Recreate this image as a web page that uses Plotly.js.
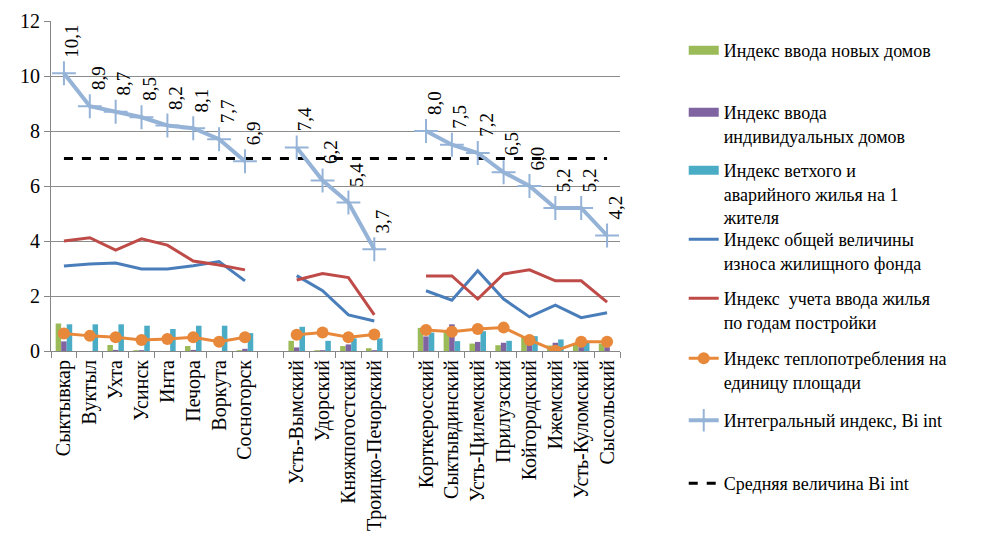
<!DOCTYPE html>
<html>
<head>
<meta charset="utf-8">
<script src="https://cdn.plot.ly/plotly-3.0.1.min.js"></script>
<style>html,body{margin:0;padding:0;background:#fff;}#chart{width:984px;height:536px;}</style>
</head>
<body>
<div id="chart"></div>
<script>
const categories = ["Сыктывкар","Вуктыл","Ухта","Усинск","Инта","Печора","Воркута","Сосногорск"," ",
  "Усть-Вымский","Удорский","Княжпогостский","Троицко-Печорский","  ",
  "Корткеросский","Сыктывдинский","Усть-Цилемский","Прилузский","Койгородский","Ижемский","Усть-Куломский","Сысольский"];

const newHouses   = [1.0,0,0.22,0.03,0,0.18,0,0.03,null,0.37,0.03,0.18,0.1,null,0.84,0.76,0.27,0.21,0.5,0.2,0.25,0.27];
const indivHouses = [0.35,0,0.04,0.03,0,0.04,0,0.08,null,0.13,0.03,0.24,0.03,null,0.53,0.97,0.33,0.3,0.27,0.3,0.14,0.14];
const dilapidated = [0.97,0.97,0.97,0.92,0.8,0.92,0.92,0.65,null,0.88,0.37,0.46,0.46,null,0.67,0.36,0.72,0.37,0.54,0.42,0.3,0];
const wear        = [3.09,3.16,3.2,2.98,2.98,3.1,3.25,2.55,null,2.74,2.19,1.31,1.09,null,2.19,1.85,2.92,1.89,1.24,1.67,1.21,1.39];
const builtYear   = [4.0,4.12,3.67,4.08,3.85,3.27,3.13,2.95,null,2.58,2.82,2.67,1.31,null,2.73,2.73,1.89,2.8,2.95,2.55,2.55,1.78];
const heat        = [0.64,0.55,0.5,0.4,0.44,0.5,0.34,0.5,null,0.59,0.67,0.5,0.6,null,0.76,0.7,0.8,0.85,0.4,0.01,0.34,0.34];
const integral    = [10.1,8.9,8.7,8.5,8.2,8.1,7.7,6.9,null,7.4,6.2,5.4,3.7,null,8.0,7.5,7.2,6.5,6.0,5.2,5.2,4.2];
const average     = categories.map(() => 7);

const yTicks = [0,2,4,6,8,10,12];

const names = [
  "Индекс ввода новых домов",
  "Индекс ввода<br>индивидуальных домов",
  "Индекс ветхого и<br>аварийного жилья на 1<br>жителя",
  "Индекс общей величины<br>износа жилищного фонда",
  "Индекс  учета ввода жилья<br>по годам постройки",
  "Индекс теплопотребления на<br>единицу площади",
  "Интегральный индекс, Bi int",
  "Средняя величина Bi int"
];

const FONT = "Liberation Serif";
const C = {green:"#9BBB59", purple:"#8064A2", teal:"#4BACC6", blue:"#4A7EBB", red:"#BE4B48", orange:"#E8883A", light:"#95B3D7"};
const LG = ["legend","legend2","legend3","legend4","legend5","legend6","legend7","legend8"];

const traces = [
  {type:"bar", x:categories, y:newHouses, name:names[0], marker:{color:C.green}, showlegend:false},
  {type:"bar", x:categories, y:indivHouses, name:names[1], marker:{color:C.purple}, showlegend:false},
  {type:"bar", x:categories, y:dilapidated, name:names[2], marker:{color:C.teal}, showlegend:false},
  {type:"scatter", mode:"lines", x:[categories[0]], y:[null], name:names[0], line:{color:C.green, width:9}, legend:LG[0]},
  {type:"scatter", mode:"lines", x:[categories[0]], y:[null], name:names[1], line:{color:C.purple, width:9}, legend:LG[1]},
  {type:"scatter", mode:"lines", x:[categories[0]], y:[null], name:names[2], line:{color:C.teal, width:9}, legend:LG[2]},
  {type:"scatter", mode:"lines", x:categories, y:wear, name:names[3], line:{color:C.blue, width:3}, legend:LG[3]},
  {type:"scatter", mode:"lines", x:categories, y:builtYear, name:names[4], line:{color:C.red, width:3}, legend:LG[4]},
  {type:"scatter", mode:"lines+markers", x:categories, y:heat, name:names[5], line:{color:C.orange, width:3}, marker:{color:C.orange, size:12, symbol:"circle"}, legend:LG[5]},
  {type:"scatter", mode:"lines", x:categories, y:average, name:names[7], line:{color:"#000", width:3, dash:"dash"}, legend:LG[7]},
  {type:"scatter", mode:"lines+markers", x:categories, y:integral, name:names[6], line:{color:C.light, width:4}, marker:{symbol:"cross-thin", size:17, line:{color:C.light, width:2}, color:C.light}, legend:LG[6]}
];

const annotations = integral.map((v,i) => v == null ? null : ({
  x: categories[i], y: v, xref:"x", yref:"y",
  text: v.toFixed(1).replace(".", ","),
  showarrow:false, textangle:-90, xanchor:"center", yanchor:"bottom",
  xshift:8, yshift:14,
  font:{family:FONT, size:19, color:"#000"}
})).filter(a => a);

const plotBottom = 185, H = 536, T = 21;
const legendRowsPx = [32, 94, 152, 221, 280, 340, 402, 465]; // legend row tops in pixels
const layout = {
  width:984, height:H,
  margin:{l:51, r:364, t:T, b:0},
  paper_bgcolor:"#fff", plot_bgcolor:"#fff",
  font:{family:FONT, size:18, color:"#000"},
  barmode:"group", bargap:0.36, bargroupgap:0,
  showlegend:true,
  xaxis:{type:"category", categoryorder:"array", categoryarray:categories, range:[-0.5, categories.length-0.5],
    tickangle:-90, ticks:"outside", tickson:"boundaries", ticklen:6, tickcolor:"#868686",
    showline:true, linecolor:"#868686", linewidth:1, showgrid:false, zeroline:false,
    tickfont:{family:FONT, size:20, color:"#000"}, automargin:false},
  yaxis:{domain:[plotBottom/(H-T), 1], range:[0,12], tickvals:yTicks, ticktext:yTicks.map(String),
    ticks:"outside", ticklen:6, tickcolor:"#868686",
    showline:true, linecolor:"#868686", linewidth:1, showgrid:true, gridcolor:"#8c8c8c", gridwidth:1, zeroline:false,
    tickfont:{family:FONT, size:20, color:"#000"}, automargin:false},
  annotations: annotations
};
LG.forEach((k,i) => {
  layout[k] = {x:1.112, xanchor:"left", y:1-(legendRowsPx[i]-T)/(H-T), yanchor:"top", valign:"top",
    font:{family:FONT, size:18, color:"#000"}, bgcolor:"rgba(0,0,0,0)"};
});

Plotly.newPlot("chart", traces, layout, {displayModeBar:false, staticPlot:true});
</script>
</body>
</html>
